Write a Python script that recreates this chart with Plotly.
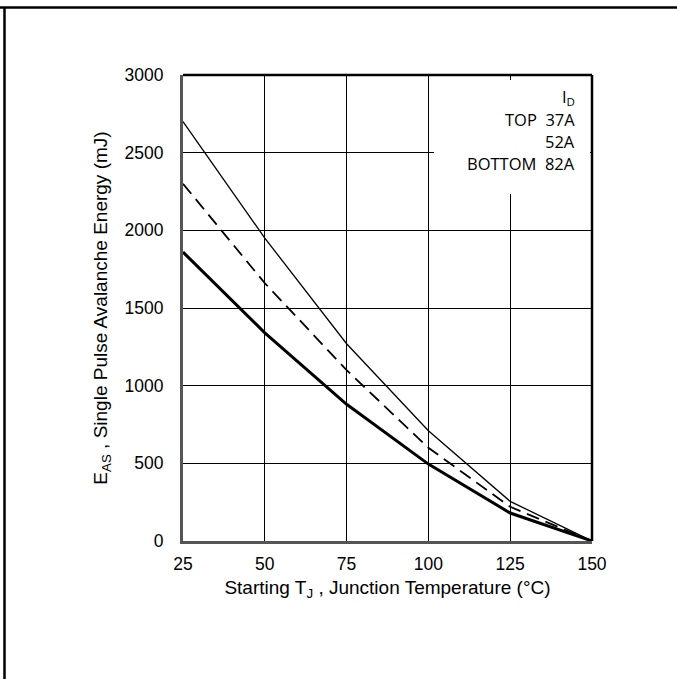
import plotly.graph_objects as go

temps = [25, 50, 75, 100, 125, 150]
eas_37a = [2700, 1950, 1270, 710, 255, 0]
eas_52a = [2300, 1660, 1100, 600, 220, 0]
eas_82a = [1860, 1340, 880, 495, 180, 0]
x_ticks = [25, 50, 75, 100, 125, 150]
y_ticks = [0, 500, 1000, 1500, 2000, 2500, 3000]

fig = go.Figure()
fig.add_trace(go.Scatter(x=temps, y=eas_37a, mode="lines", line=dict(color="black", width=1.3), name="37A"))
fig.add_trace(go.Scatter(x=temps, y=eas_52a, mode="lines", line=dict(color="black", width=1.8, dash="13px,7px"), name="52A"))
fig.add_trace(go.Scatter(x=temps, y=eas_82a, mode="lines", line=dict(color="black", width=3), name="82A"))

L, R, T, B = 183, 592, 75, 541
W, H = 677, 679
pw, ph = R - L, B - T

def px(x):
    return (x - L) / pw

def py(y):
    return (B - y) / ph

font = "Liberation Sans, Arial, sans-serif"
fig.update_layout(
    width=W, height=H,
    margin=dict(l=L, r=W - R, t=T, b=H - B),
    paper_bgcolor="white", plot_bgcolor="white",
    showlegend=False,
    font=dict(family=font, size=17, color="black"),
    xaxis=dict(range=[25, 150], tickvals=x_ticks, showgrid=True, gridcolor="black", gridwidth=1,
               showline=True, linecolor="#555", linewidth=3, mirror=False, ticks="",
               zeroline=False, ticklabelstandoff=5, tickfont=dict(size=17.5),
               title=dict(text="Starting T<sub>J</sub> , Junction Temperature (°C)", standoff=8,
                          font=dict(size=19))),
    yaxis=dict(range=[0, 3000], tickvals=y_ticks, showgrid=True, gridcolor="black", gridwidth=1,
               showline=True, linecolor="#555", linewidth=3, mirror=False, ticks="",
               zeroline=False, ticklabelstandoff=13, tickfont=dict(size=17.5),
               title=dict(text="E<sub>AS</sub> , Single Pulse Avalanche Energy (mJ)", standoff=12,
                          font=dict(size=19))),
)

# top / right plot frame
fig.add_shape(type="line", xref="paper", yref="paper", x0=0, x1=1, y0=1, y1=1,
              line=dict(color="black", width=2.5), layer="above")
fig.add_shape(type="line", xref="paper", yref="paper", x0=1, x1=1, y0=0, y1=1,
              line=dict(color="black", width=2.5), layer="above")

# outer frame lines
fig.add_shape(type="line", xref="paper", yref="paper", x0=px(0), x1=px(W), y0=py(7.5), y1=py(7.5),
              line=dict(color="black", width=2.5))
fig.add_shape(type="line", xref="paper", yref="paper", x0=px(4.5), x1=px(4.5), y0=py(7.5), y1=py(H),
              line=dict(color="black", width=2.5))
# legend box
fig.add_shape(type="rect", xref="paper", yref="paper", x0=px(434), x1=px(590), y0=py(80), y1=py(194),
              fillcolor="white", line=dict(width=0), layer="above")

lfont = dict(family="Open Sans, Noto Sans, sans-serif", size=16.5, color="black")
for txt, yy in [("I<sub>D</sub>", 97), ("TOP  37A", 119), ("52A", 141), ("BOTTOM  82A", 163)]:
    fig.add_annotation(xref="paper", yref="paper", x=px(577), y=py(yy), text=txt, showarrow=False,
                       xanchor="right", yanchor="middle", font=lfont)

fig.write_html("out.html")
